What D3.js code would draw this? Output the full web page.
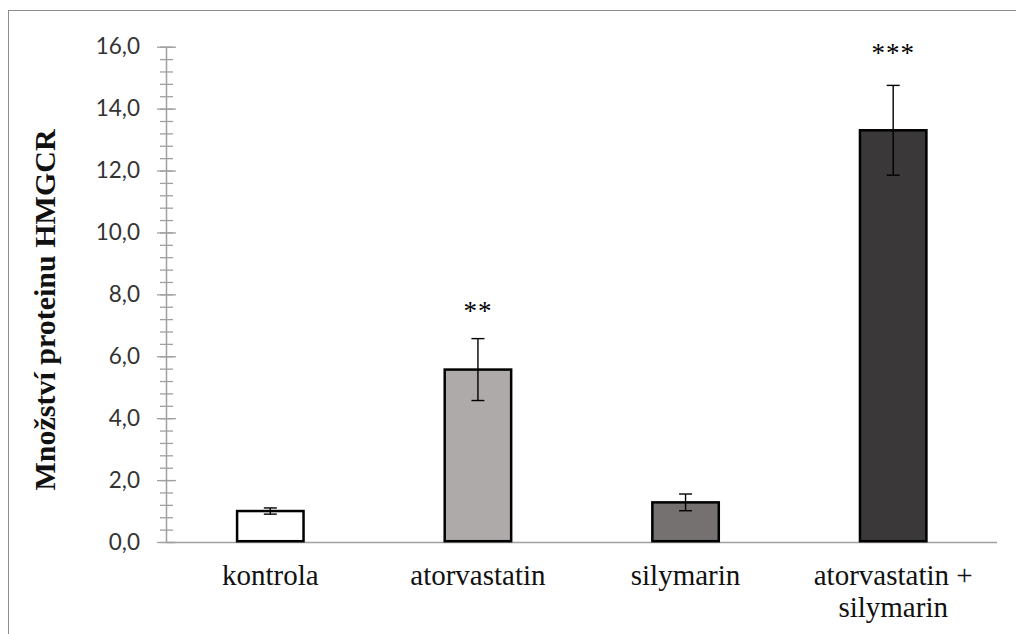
<!DOCTYPE html>
<html>
<head>
<meta charset="utf-8">
<script src="https://cdn.jsdelivr.net/npm/d3@7"></script>
<style>
  body { margin: 0; background: #fff; }
  #chart { width: 1016px; height: 634px; }
</style>
</head>
<body>
<div id="chart"></div>
<script>
// Chart data
const categories = ["kontrola", "atorvastatin", "silymarin", "atorvastatin + silymarin"];
const categoryLines = [["kontrola"], ["atorvastatin"], ["silymarin"], ["atorvastatin +", "silymarin"]];
const means = [1.0, 5.57, 1.28, 13.3];
const errors = [0.1, 1.0, 0.27, 1.45];
const stars = ["", "**", "", "***"];
const starLevels = [null, 7.18, null, 15.5];
const majorTicks = [0, 2, 4, 6, 8, 10, 12, 14, 16];
const minorTicks = [0, 0.4, 0.8, 1.2, 1.6, 2.0, 2.4, 2.8, 3.2, 3.6, 4.0, 4.4, 4.8, 5.2, 5.6,
  6.0, 6.4, 6.8, 7.2, 7.6, 8.0, 8.4, 8.8, 9.2, 9.6, 10.0, 10.4, 10.8, 11.2, 11.6,
  12.0, 12.4, 12.8, 13.2, 13.6, 14.0, 14.4, 14.8, 15.2, 15.6, 16.0];
const barColors = ["#ffffff", "#aeaaaa", "#767171", "#3a3838"];
const yTitle = "Množství proteinu HMGCR";

const width = 1016, height = 634;
const axisColor = "#a0a0a0";

const svg = d3.select("#chart")
    .append("svg")
    .attr("width", width)
    .attr("height", height);

// Outer chart border
svg.append("rect")
    .attr("x", 8.5)
    .attr("y", 10.5)
    .attr("width", 1020)
    .attr("height", 640)
    .attr("fill", "#fff")
    .attr("stroke", "#8c8c8c")
    .attr("stroke-width", 1);

// Scales
const x = d3.scaleBand()
    .domain(categories)
    .range([166.5, 997])
    .paddingInner(0.68)
    .paddingOuter(0.34);

const y = d3.scaleLinear()
    .domain([0, 16])
    .range([542, 46.7]);

const fmt = v => d3.format(".1f")(v).replace(".", ",");

// Minor ticks
const minorAxis = svg.append("g")
    .attr("transform", "translate(166.5,0)")
    .call(d3.axisLeft(y).tickValues(minorTicks).tickFormat("").tickSizeOuter(0));
minorAxis.select(".domain").remove();
minorAxis.selectAll(".tick line")
    .attr("x1", -6.5).attr("x2", 6.5)
    .attr("stroke", axisColor).attr("stroke-width", 1.3);

// Major ticks with labels
const majorAxis = svg.append("g")
    .attr("transform", "translate(166.5,0)")
    .call(d3.axisLeft(y).tickValues(majorTicks).tickFormat(fmt).tickSizeOuter(0));
majorAxis.select(".domain")
    .attr("d", `M0,${y(16)}V${y(0)}`)
    .attr("stroke", axisColor)
    .attr("stroke-width", 1.5);
majorAxis.selectAll(".tick line")
    .attr("x1", -9.5).attr("x2", 9.5)
    .attr("stroke", axisColor).attr("stroke-width", 1.3);
majorAxis.selectAll(".tick text")
    .attr("x", -26.5)
    .attr("fill", "#333")
    .style("font-family", "Lato, 'Open Sans', sans-serif")
    .style("font-size", "22.5px");

// Baseline (x axis), under the bars
svg.append("line")
    .attr("x1", 166.5).attr("x2", 997)
    .attr("y1", y(0) + 0.5).attr("y2", y(0) + 0.5)
    .attr("stroke", axisColor)
    .attr("stroke-width", 1.5);

// Bars
svg.selectAll(".bar")
    .data(categories)
    .enter()
    .append("rect")
    .attr("class", "bar")
    .attr("x", d => x(d))
    .attr("y", (d, i) => y(means[i]))
    .attr("width", x.bandwidth())
    .attr("height", (d, i) => y(0) - 0.8 - y(means[i]))
    .attr("fill", (d, i) => barColors[i])
    .attr("stroke", "#000")
    .attr("stroke-width", 2.5);

// Error bars
const errG = svg.append("g")
    .attr("stroke", "#000")
    .attr("stroke-width", 1.4);
categories.forEach((c, i) => {
    const cx = x(c) + x.bandwidth() / 2;
    const top = y(means[i] + errors[i]);
    const bot = y(means[i] - errors[i]);
    errG.append("line").attr("x1", cx).attr("x2", cx).attr("y1", top).attr("y2", bot);
    errG.append("line").attr("x1", cx - 6.5).attr("x2", cx + 6.5).attr("y1", top).attr("y2", top);
    errG.append("line").attr("x1", cx - 6.5).attr("x2", cx + 6.5).attr("y1", bot).attr("y2", bot);
});

// Significance stars
svg.selectAll(".star")
    .data(categories.filter((c, i) => stars[i]))
    .enter()
    .append("text")
    .attr("class", "star")
    .attr("x", d => x(d) + x.bandwidth() / 2)
    .attr("y", d => y(starLevels[categories.indexOf(d)]))
    .attr("text-anchor", "middle")
    .style("font-family", "'Liberation Serif', 'Times New Roman', serif")
    .style("font-size", "27px")
    .style("letter-spacing", "1px")
    .attr("fill", "#000")
    .text(d => stars[categories.indexOf(d)]);

// Category labels
const xLabels = svg.selectAll(".xlabel")
    .data(categories)
    .enter()
    .append("text")
    .attr("class", "xlabel")
    .attr("text-anchor", "middle")
    .attr("fill", "#111")
    .style("font-family", "'Liberation Serif', 'Times New Roman', serif")
    .style("font-size", "29px");
xLabels.each(function(d, i) {
    const t = d3.select(this);
    categoryLines[i].forEach((line, j) => {
        t.append("tspan")
            .attr("x", x(d) + x.bandwidth() / 2)
            .attr("y", 585 + j * 32)
            .text(line);
    });
});

// Y axis title
svg.append("text")
    .attr("transform", "translate(55,310) rotate(-90)")
    .attr("text-anchor", "middle")
    .attr("fill", "#111")
    .style("font-family", "'Liberation Serif', 'Times New Roman', serif")
    .style("font-size", "30px")
    .style("font-weight", "bold")
    .text(yTitle);
</script>
</body>
</html>
